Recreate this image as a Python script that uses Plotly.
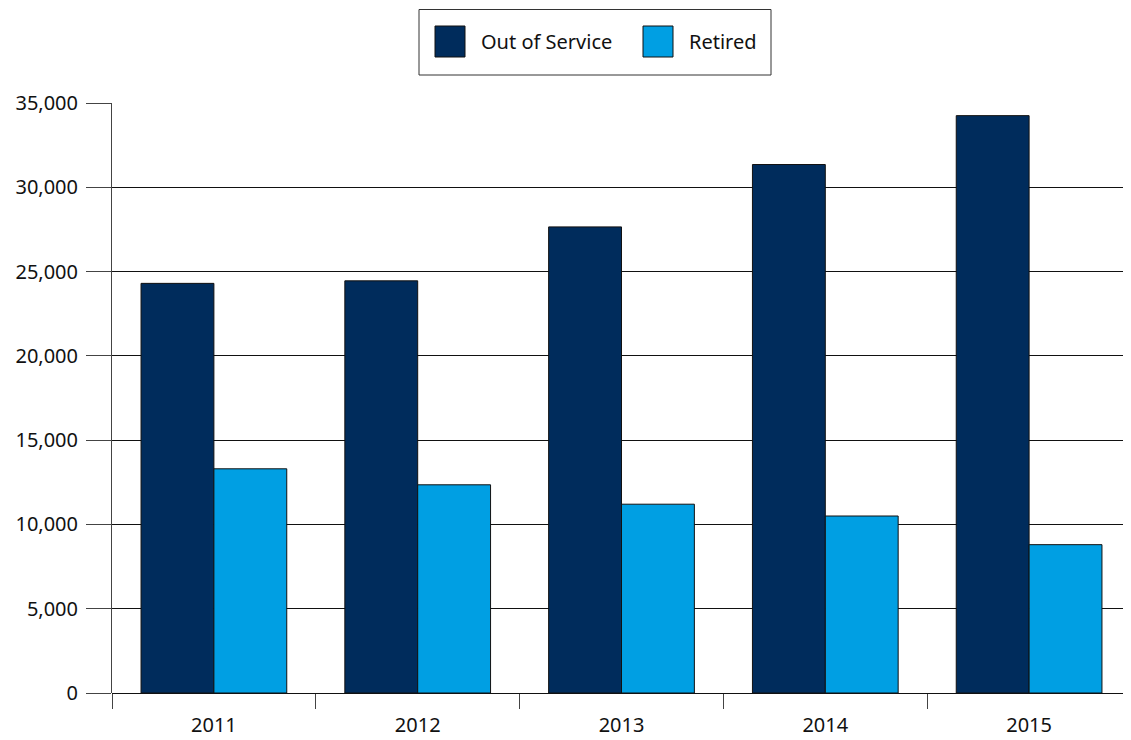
import plotly.graph_objects as go

# data
years = ['2011', '2012', '2013', '2014', '2015']
out_of_service = [24300, 24450, 27650, 31350, 34250]
retired = [13300, 12350, 11200, 10500, 8800]

series = [('Out of Service', out_of_service, '#002c5c'),
          ('Retired', retired, '#009fe3')]

fig = go.Figure()
for name, vals, col in series:
    fig.add_bar(x=years, y=vals, name=name, marker_color=col,
                marker_line=dict(color='#111111', width=1))

FONT = 'Noto Sans'

# page body has an 8px margin, so the figure is a little smaller than the window
fig.update_layout(
    width=1123, height=732,
    margin=dict(l=104, r=0, t=95, b=47),
    plot_bgcolor='white', paper_bgcolor='white',
    barmode='group', bargap=0.285, bargroupgap=0,
    showlegend=False,
    font=dict(family=FONT, size=20, color='#111111'),
)

fig.update_yaxes(range=[0, 35000], dtick=5000, tickformat=',',
                 showgrid=True, gridcolor='#111111', gridwidth=1,
                 zeroline=True, zerolinecolor='#111111', zerolinewidth=1,
                 showline=True, linecolor='#444444', linewidth=1,
                 ticks='outside', ticklen=25, tickcolor='#444444',
                 ticklabelstandoff=4)
fig.update_xaxes(showline=False, tickson='boundaries', ticks='outside',
                 ticklen=15, tickcolor='#444444', showgrid=False,
                 ticklabelstandoff=18)

# legend box drawn by hand so the swatches match the large squares
def px_x(p):
    return (p - 112) / 1019

def px_y(p):
    return (693 - p) / 590

fig.add_shape(type='rect', xref='paper', yref='paper',
              x0=px_x(419), x1=px_x(771), y0=px_y(75), y1=px_y(9.5),
              line=dict(color='#333333', width=1), fillcolor='white')
for (name, _, col), sx in zip(series, [435, 643]):
    fig.add_shape(type='rect', xref='paper', yref='paper',
                  x0=px_x(sx), x1=px_x(sx + 30), y0=px_y(57), y1=px_y(26),
                  line=dict(color='#111111', width=1), fillcolor=col)
    fig.add_annotation(text=name, xref='paper', yref='paper',
                       x=px_x(sx + 44), y=px_y(41), xanchor='left', yanchor='middle',
                       showarrow=False, font=dict(family=FONT, size=20, color='#111111'))

fig.write_html('out.html')
